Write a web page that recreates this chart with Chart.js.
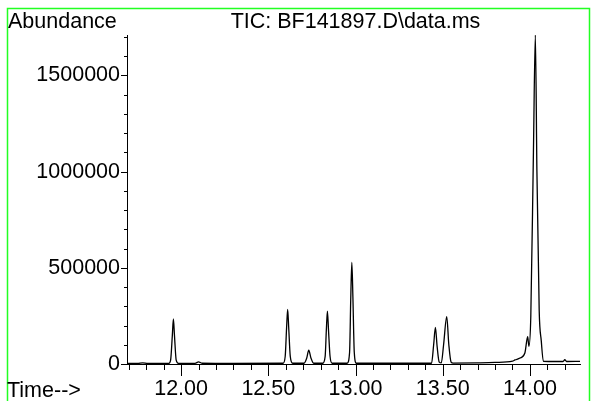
<!DOCTYPE html>
<html><head><meta charset="utf-8">
<script src="https://cdn.jsdelivr.net/npm/chart.js@4.4.0/dist/chart.umd.min.js"></script>
<style>
html,body{margin:0;padding:0;background:#fff;}
#wrap{position:relative;width:591px;height:401px;overflow:hidden;}
canvas{position:absolute;left:0;top:0;}
</style></head><body>
<div id="wrap"><canvas id="c" width="591" height="401"></canvas></div>
<script>
// Retention time (min)
const timeMin = [
  11.69, 11.75, 11.78, 11.81, 11.93, 11.940, 11.950, 11.956, 11.962, 11.972, 11.985,
  12.08, 12.10, 12.12, 12.30, 12.585, 12.597, 12.605, 12.611, 12.617, 12.626, 12.640,
  12.705, 12.720, 12.732, 12.745, 12.760, 12.812, 12.826, 12.833, 12.839, 12.845, 12.854, 12.866,
  12.952, 12.966, 12.973, 12.979, 12.985, 12.993, 13.005, 13.40, 13.436, 13.448, 13.458, 13.468,
  13.480, 13.492, 13.505, 13.523, 13.535, 13.548, 13.56, 13.70, 13.80, 13.90, 13.914, 13.943,
  13.971, 13.987, 13.994, 14.005, 14.020, 14.031, 14.040, 14.053, 14.065, 14.077, 14.15,
  14.19, 14.20, 14.21, 14.287
];
// Total ion current abundance
const abundance = [
  3000, 3000, 6000, 3000, 3500, 20000, 150000, 234000, 150000, 20000, 3500,
  3500, 11000, 4000, 3000, 4000, 40000, 190000, 284000, 190000, 40000, 4000,
  4000, 30000, 72000, 30000, 4000, 4000, 40000, 180000, 275000, 180000, 40000, 4000,
  4000, 60000, 350000, 528000, 350000, 60000, 4000, 4000, 4000, 100000, 190000, 90000,
  10000, 6000, 100000, 246000, 100000, 10000, 5000, 6000, 8000, 15000, 21000, 31000,
  57000, 142000, 92000, 250000, 1100000, 1710000, 1000000, 280000, 120000, 14000, 13000,
  13000, 22000, 13000, 14000
];
const xMajorTicks = [12.0, 12.5, 13.0, 13.5, 14.0];
const yMajorTicks = [0, 500000, 1000000, 1500000];
const titleText = 'TIC: BF141897.D\\data.ms';
const yAxisTitle = 'Abundance';
const xAxisTitle = 'Time-->';

const FONT = '"Liberation Sans", Arial, sans-serif';
const FS = 21.5;

const decor = {
  id: 'decor',
  beforeDraw(chart) {
    const ctx = chart.ctx;
    ctx.save();
    ctx.strokeStyle = '#22ff22';
    ctx.lineWidth = 1.5;
    ctx.beginPath();
    ctx.moveTo(7.5, 402);
    ctx.lineTo(7.5, 8.5);
    ctx.lineTo(589.5, 8.5);
    ctx.lineTo(589.5, 402);
    ctx.stroke();
    ctx.restore();
  },
  afterDraw(chart) {
    const ctx = chart.ctx, x = chart.scales.x, y = chart.scales.y;
    const ca = chart.chartArea;
    ctx.save();
    ctx.strokeStyle = '#000';
    ctx.lineWidth = 1;
    // x ticks
    for (let k = 117; k <= 142; k++) {
      const v = k / 10;
      if (v < x.min || v > x.max) continue;
      const px = Math.round(x.getPixelForValue(v)) + 0.5;
      const major = (k % 5 === 0);
      ctx.beginPath();
      ctx.moveTo(px, ca.bottom);
      ctx.lineTo(px, ca.bottom + (major ? 12 : 6));
      ctx.stroke();
    }
    // y ticks
    for (let v = 0; v <= y.max; v += 100000) {
      const py = Math.round(y.getPixelForValue(v)) + 0.5;
      const major = (v % 500000 === 0);
      ctx.beginPath();
      ctx.moveTo(ca.left, py);
      ctx.lineTo(ca.left - (major ? 6 : 3), py);
      ctx.stroke();
    }
    ctx.fillStyle = '#000';
    ctx.font = FS + 'px ' + FONT;
    ctx.textBaseline = 'alphabetic';
    ctx.textAlign = 'left';
    ctx.fillText(yAxisTitle, 8, 28);
    ctx.fillText(xAxisTitle, 7, 397);
    ctx.textAlign = 'center';
    ctx.fillText(titleText, (ca.left + ca.right) / 2 + 2, 28);
    ctx.restore();
  }
};

new Chart(document.getElementById('c'), {
  type: 'line',
  data: {
    datasets: [{
      data: timeMin.map((t, i) => ({x: t, y: abundance[i]})),
      borderColor: '#000',
      borderWidth: 1.3,
      pointRadius: 0,
      fill: false,
      cubicInterpolationMode: 'monotone'
    }]
  },
  options: {
    responsive: false,
    animation: false,
    parsing: false,
    layout: {padding: {left: 0, top: 35, right: 11, bottom: 0}},
    plugins: {legend: {display: false}, tooltip: {enabled: false}, title: {display: false}},
    scales: {
      x: {
        type: 'linear', min: 11.69, max: 14.287,
        grid: {display: true, drawOnChartArea: false, drawTicks: false},
        border: {display: true, color: '#000', width: 1},
        afterBuildTicks: s => { s.ticks = xMajorTicks.map(v => ({value: v})); },
        afterFit: s => { s.height = 37; },
        ticks: {
          color: '#000', font: {family: FONT, size: FS}, padding: 12, maxRotation: 0, autoSkip: false,
          callback: v => Number(v).toFixed(2)
        }
      },
      y: {
        type: 'linear', min: 0, max: 1710000,
        grid: {display: true, drawOnChartArea: false, drawTicks: false},
        border: {display: true, color: '#000', width: 1},
        afterBuildTicks: s => { s.ticks = yMajorTicks.map(v => ({value: v})); },
        afterFit: s => { s.width = 127; },
        ticks: {
          color: '#000', font: {family: FONT, size: FS}, padding: 7, autoSkip: false,
          callback: v => String(v)
        }
      }
    }
  },
  plugins: [decor]
});
</script>
</body></html>
